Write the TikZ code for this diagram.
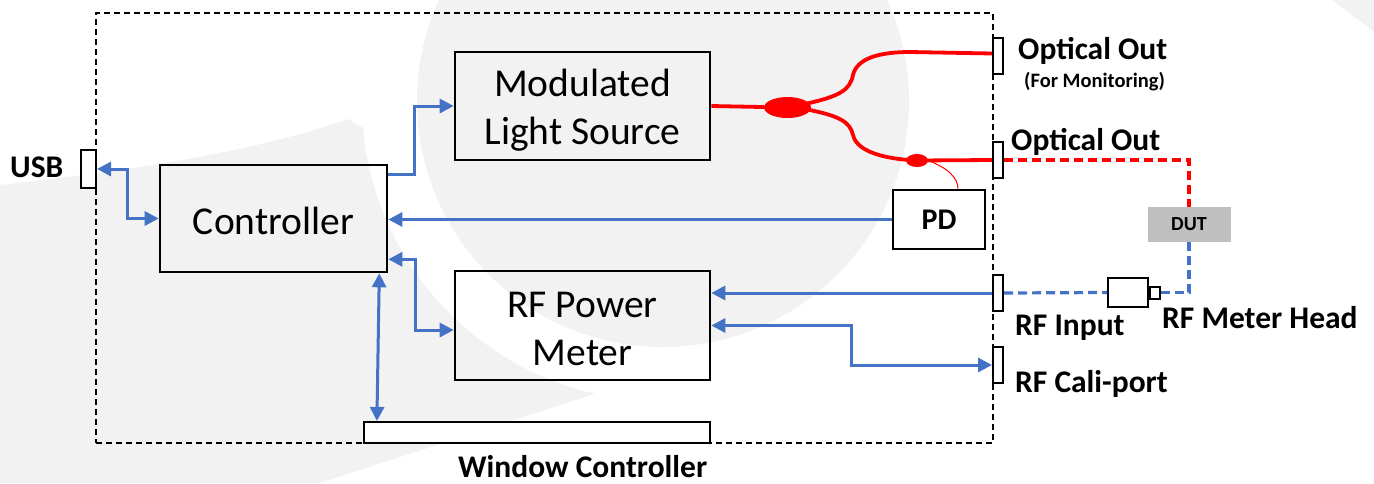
\documentclass[tikz,border=0pt]{standalone}
\usepackage{fontspec}
\setmainfont{Carlito}
\usetikzlibrary{arrows.meta,calc,shapes.geometric}
\definecolor{myblue}{HTML}{4472C4}
\definecolor{wm}{HTML}{F2F2F2}
\definecolor{dutgray}{HTML}{BFBFBF}
\definecolor{fiber}{HTML}{FF0000}
\begin{document}
\begin{tikzpicture}[x=1pt,y=-1pt,
  box/.style={draw=black,line width=2.6pt,inner sep=0pt},
  boxtxt/.style={inner sep=0pt,align=center,font=\fontsize{39.5}{48}\selectfont},
  port/.style={draw=black,line width=2pt,fill=white,inner sep=0pt,minimum width=10pt,minimum height=36pt},
  frame/.style={draw=black,line width=1.6pt,dash pattern=on 6pt off 4pt,inner sep=0pt},
  lbl/.style={inner sep=0pt,anchor=base west,font=\bfseries\fontsize{31.5}{36}\selectfont},
  bl/.style={draw=myblue,line width=3pt},
  tip/.tip={Triangle[length=14pt,width=14pt]},
  fib/.style={draw=fiber,line width=3.8pt},
  dfib/.style={draw=fiber,line width=3.2pt,dash pattern=on 9pt off 5pt},
  dbl/.style={draw=myblue,line width=3.2pt,dash pattern=on 9pt off 5pt}]
\path[use as bounding box] (0,0) rectangle (1374,483);
% watermark background
\begin{scope}
\clip (0,0) rectangle (1374,483);
\fill[wm] (663,101) circle (246);
\fill[wm] (0,185) .. controls (150,168) and (260,150) .. (348,119) -- (363,128)
  arc[start angle=174.9,end angle=102.9,radius=300] -- (320,483) -- (0,483) -- cycle;
\fill[wm] (1332,0) -- (1374,32) -- (1374,0) -- cycle;
\end{scope}
% frame
\node[frame,minimum width=897pt,minimum height=430pt] (frame) at (544.5,228) {};
% boxes
\node[box,minimum width=255pt,minimum height=108pt] (mls) at (582.5,106) {};
\node[boxtxt] (mlsT) at ($(mls.center)+(0,4)$) {Modulated\\Light Source};
\node[box,minimum width=227pt,minimum height=107pt] (ctrl) at (273.5,218.5) {};
\node[boxtxt] (ctrlT) at ($(ctrl.center)+(0,2)$) {Controller};
\node[box,minimum width=255pt,minimum height=109pt] (rfm) at (582.5,325.5) {};
\node[boxtxt] (rfmT) at ($(rfm.center)+(0,3)$) {RF Power\\Meter};
\node[box,fill=white,line width=2.2pt,minimum width=346pt,minimum height=21pt] (win) at (537,432.5) {};
\node[box,minimum width=92pt,minimum height=59pt,font=\bfseries\fontsize{30}{36}\selectfont] (pd) at (939,219.5) {PD};
\node[fill=dutgray,inner sep=0pt,minimum width=83pt,minimum height=35pt,font=\bfseries\fontsize{20}{24}\selectfont] (dut) at (1189,224.5) {DUT};
% ports
\node[port,minimum width=15pt,minimum height=38pt] (usb) at (88.5,169) {};
\node[port] (pom) at (998,55.5) {};
\node[port] (poo) at (998,160) {};
\node[port] (pri) at (998,293) {};
\node[port] (pcal) at (998,365) {};
% meter head
\node[draw=black,line width=2pt,fill=white,inner sep=0pt,minimum width=40pt,minimum height=29pt] (mh) at (1128,292.5) {};
\node[draw=black,line width=2pt,fill=white,inner sep=0pt,minimum width=10pt,minimum height=12pt,anchor=west] (mhs) at (mh.east) {};
% labels
\node[lbl] (tusb) at (10,177) {USB};
\node[lbl] (too1) at (1018,59) {Optical Out};
\node[lbl,font=\bfseries\fontsize{20.5}{24}\selectfont] (tmon) at (1024,87) {(For Monitoring)};
\node[lbl] (too2) at (1011,150) {Optical Out};
\node[lbl] (trfi) at (1015,335) {RF Input};
\node[lbl] (trfh) at (1162,328) {RF Meter Head};
\node[lbl] (trfc) at (1015,392) {RF Cali-port};
\node[lbl] (twin) at (458,477) {Window Controller};
% blue connectors
\draw[bl,tip-tip] (usb.east) -| ($(usb.east)!0.5!(ctrl.west)$) |- (ctrl.west);
\draw[bl,-tip] ($(ctrl.north east)+(0,11)$) -| ($(mls.west)+(-39,0)$) -- (mls.west);
\draw[bl,-tip] (pd.west) -- (ctrl.east |- pd.west);
\draw[bl,tip-tip] ($(ctrl.south east)+(0,-14)$) -| ($(rfm.west)+(-38,4.5)$) -- ($(rfm.west)+(0,4.5)$);
\draw[bl,tip-tip] ($(ctrl.south east)+(-9,0)$) -- ($(win.north west)+(14,0)$);
\draw[bl,-tip] (pri.west) -- (rfm.east |- pri.west);
\draw[bl,tip-tip] (rfm.east) -| ($(pcal.west)+(-141,0)$) -- (pcal.west);
% dashed to DUT
\draw[dbl] (pri.east) -- (mh.west);
\draw[dbl] (mhs.east) -| (dut.south);
\draw[dfib] (poo.east) -| (dut.north);
% fiber
\node[ellipse,fill=fiber,inner sep=0pt,minimum width=47pt,minimum height=21pt] (cp) at (787.5,107.5) {};
\node[ellipse,fill=fiber,inner sep=0pt,minimum width=22pt,minimum height=13pt] (tap) at (917,160.5) {};
\draw[fib] (mls.east) -- (cp);
\draw[fib] ($(cp.east)+(-4,-4)$) .. controls (840,96) and (850,90) .. (853,75)
  .. controls (857,58) and (880,52) .. (910,52) -- ($(pom.west)+(0,-2)$);
\draw[fib] ($(cp.east)+(-4,2)$) .. controls (840,116) and (850,122) .. (853,135)
  .. controls (857,152) and (885,159) .. (tap.center) -- (poo.west);
\draw[draw=fiber,line width=1pt] (tap.east) .. controls (948,168) and (958,178) .. ($(pd.north)+(19,0)$);
\end{tikzpicture}
\end{document}
